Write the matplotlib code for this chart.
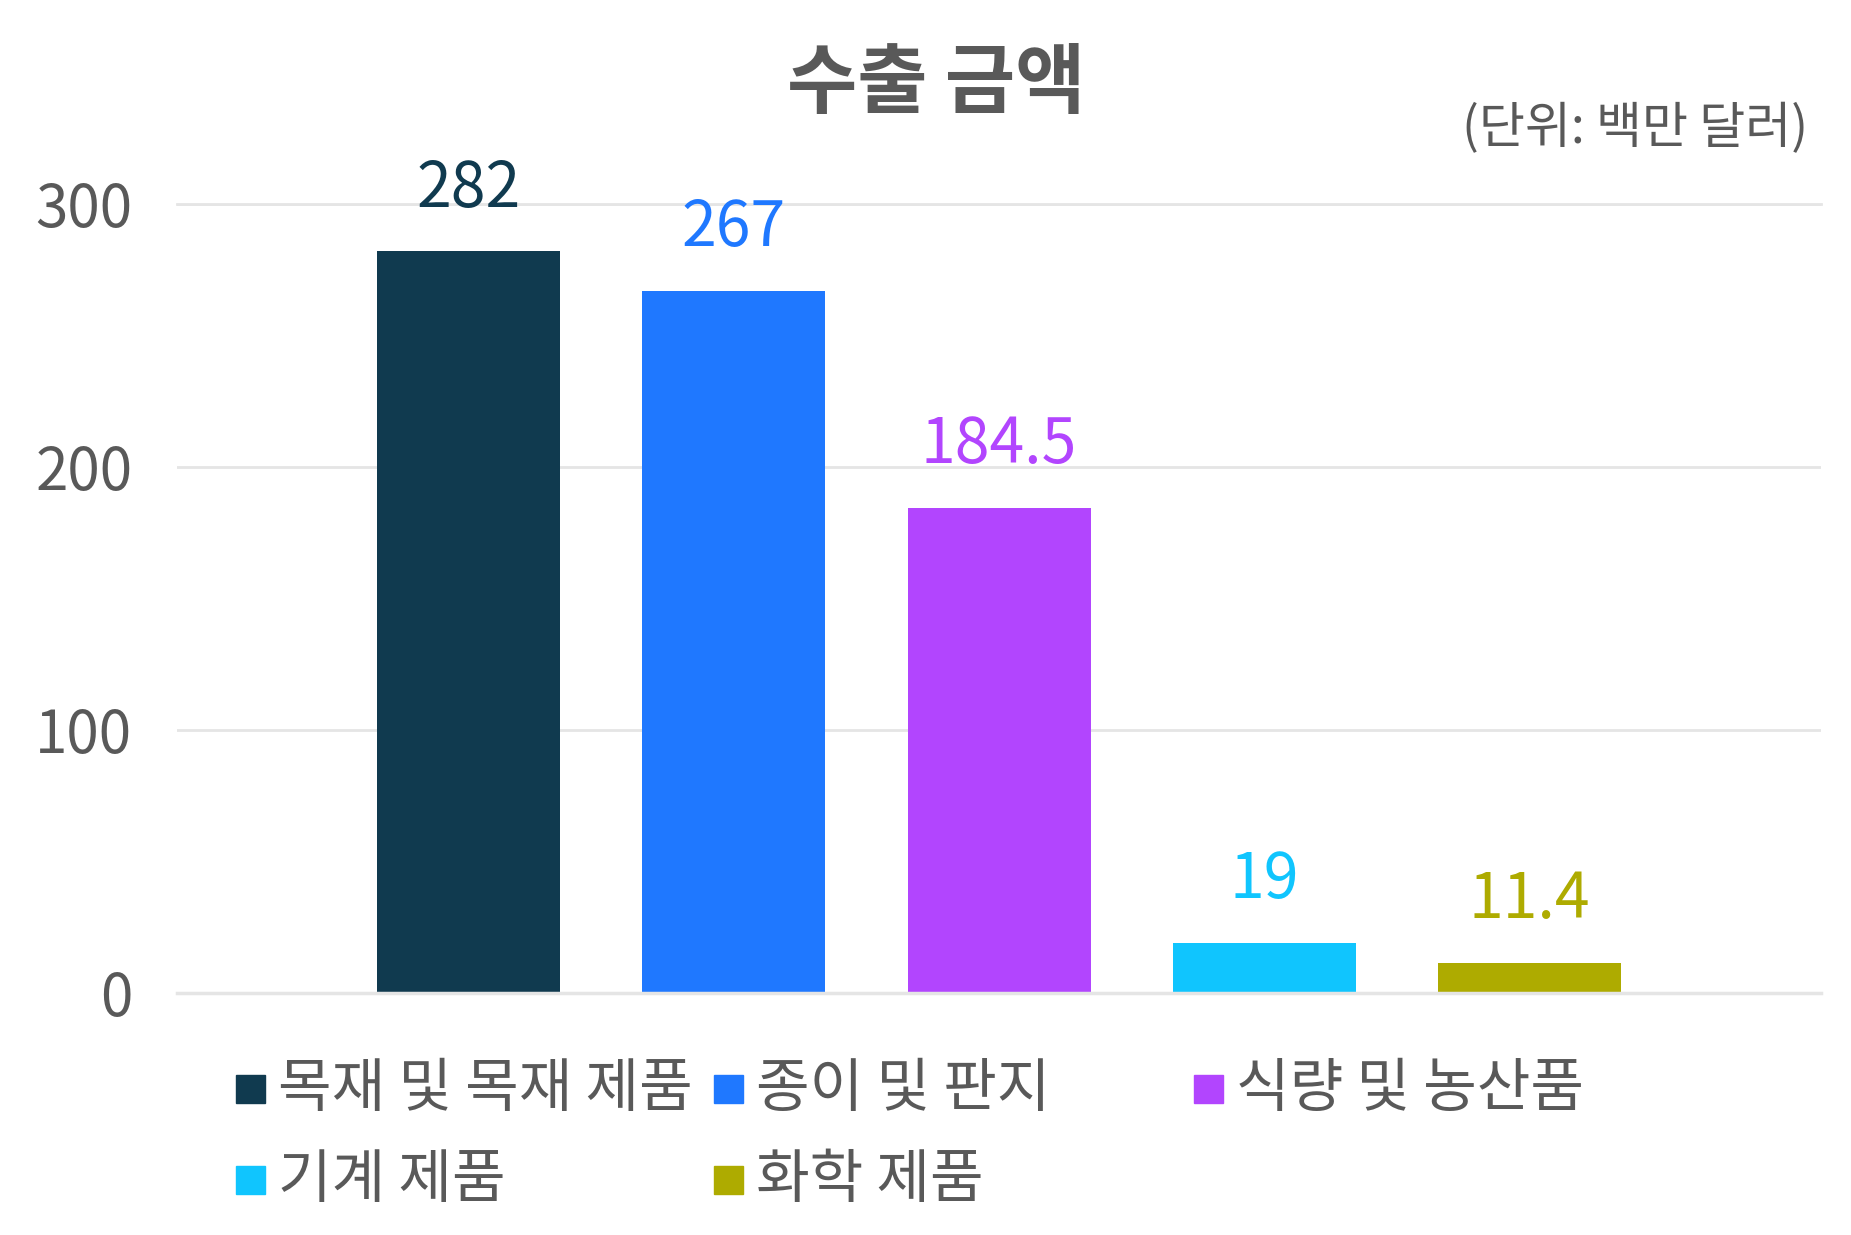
import matplotlib
matplotlib.use("Agg")
import matplotlib.pyplot as plt
from matplotlib.patches import Rectangle

plt.rcParams['font.family'] = ['Noto Sans CJK KR', 'DejaVu Sans']

categories = ["목재 및 목재 제품", "종이 및 판지", "식량 및 농산품", "기계 제품", "화학 제품"]
values = [282, 267, 184.5, 19, 11.4]
value_labels = ["282", "267", "184.5", "19", "11.4"]
colors = ["#103a4f", "#1f78ff", "#b245fe", "#10c5fe", "#aeab00"]
yticks = [0, 100, 200, 300]

text_gray = "#595959"
grid_gray = "#e5e5e5"

fig = plt.figure(figsize=(18.51, 12.35), dpi=100)
ax = fig.add_axes([0.0955, 0.196, 0.8885, 0.639])

x = list(range(len(categories)))
bars = ax.bar(x, values, width=0.69, color=colors, zorder=3)

for xi, v, lab, c in zip(x, values, value_labels, colors):
    ax.annotate(lab, (xi, v), xytext=(0, 22), textcoords="offset points",
                ha="center", va="bottom", fontsize=45, color=c,
                annotation_clip=False)

ax.set_xlim(-1.1, len(categories) - 1 + 1.1)
ax.set_ylim(0, 300)
ax.set_yticks(yticks)
ax.set_yticklabels([str(t) for t in yticks])
ax.set_xticks([])
ax.tick_params(axis="y", length=0, pad=32, labelsize=42, labelcolor=text_gray)
ax.grid(axis="y", color=grid_gray, linewidth=2, zorder=0)
for s in ax.spines.values():
    s.set_visible(False)
ax.axhline(0, color=grid_gray, linewidth=2.5, zorder=4, clip_on=False)
ax.axhline(300, color=grid_gray, linewidth=2, zorder=0, clip_on=False)

fig.text(0.506, 0.932, "수출 금액", ha="center", va="center",
         fontsize=55, fontweight="bold", color=text_gray)
fig.text(0.977, 0.8956, "(단위: 백만 달러)", ha="right", va="center",
         fontsize=36, color=text_gray)

# legend laid out in fixed-width columns, row by row
col_x = [0.1277, 0.3858, 0.645]
row_y = [0.118, 0.0445]
sq_w, sq_h = 0.0155, 0.023
for i, (name, c) in enumerate(zip(categories, colors)):
    cx = col_x[i % 3]
    cy = row_y[i // 3]
    fig.add_artist(Rectangle((cx, cy - sq_h / 2), sq_w, sq_h,
                             transform=fig.transFigure, color=c))
    fig.text(cx + 0.0226, cy, name, ha="left", va="center",
             fontsize=42, color=text_gray)

fig.savefig("out.png", dpi=100, facecolor="white")
